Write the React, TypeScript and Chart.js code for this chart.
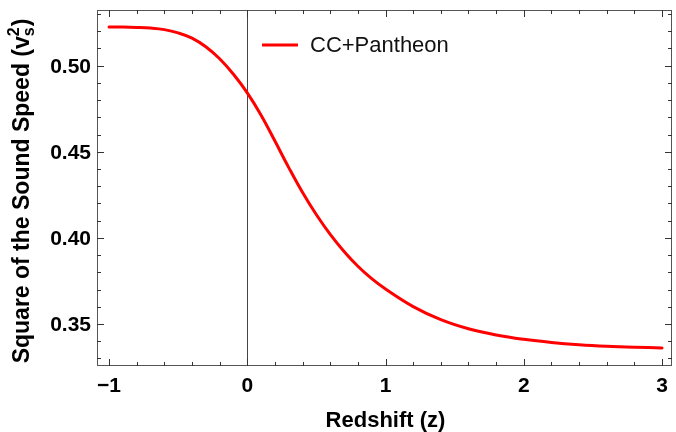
import React, { useEffect, useRef } from 'react';
import { Chart, registerables } from 'chart.js';

Chart.register(...registerables);

// Redshift z (x) and squared sound speed v_s^2 (y), CC+Pantheon
const redshift = [
  -1.0, -0.9, -0.8, -0.7, -0.6, -0.5, -0.4, -0.3, -0.2, -0.1,
  0.0, 0.1, 0.2, 0.3, 0.4, 0.5, 0.6, 0.7, 0.8, 0.9, 1.0,
  1.2, 1.4, 1.6, 1.8, 2.0, 2.2, 2.4, 2.6, 2.8, 3.0,
];
const soundSpeedSq = [
  0.5224, 0.5224, 0.5222, 0.5218, 0.5209, 0.5190, 0.5160, 0.5110, 0.5040, 0.4950,
  0.4842, 0.4712, 0.4562, 0.4408, 0.4263, 0.4134, 0.4020, 0.3921, 0.3835, 0.3763, 0.3703,
  0.3601, 0.3525, 0.3472, 0.3436, 0.3411, 0.3393, 0.3380, 0.3371, 0.3365, 0.3361,
];

const seriesLabel = 'CC+Pantheon';
const xTitle = 'Redshift (z)';
const yTitleMain = 'Square of the Sound Speed (v';
const yTitleSup = '2';
const yTitleSub = 's';

const xMajorTicks = [-1, 0, 1, 2, 3];
const xTickLabels = ['\u22121', '0', '1', '2', '3'];
const yMajorTicks = [0.35, 0.4, 0.45, 0.5];
const yTickLabels = ['0.35', '0.40', '0.45', '0.50'];

const X_MIN = -1.087;
const X_MAX = 3.072;
const Y_MIN = 0.3256;
const Y_MAX = 0.5323;

const FONT = '"Liberation Sans", Arial, Helvetica, sans-serif';

const framePlugin = {
  id: 'mmaFrame',
  beforeDatasetsDraw(chart: any) {
    const { ctx, chartArea: a, scales } = chart;
    const x0 = Math.round(scales.x.getPixelForValue(0)) + 0.5;
    ctx.save();
    ctx.strokeStyle = '#444';
    ctx.lineWidth = 1;
    ctx.beginPath();
    ctx.moveTo(x0, a.top);
    ctx.lineTo(x0, a.bottom);
    ctx.stroke();
    ctx.restore();
  },
  afterDraw(chart: any) {
    const { ctx, chartArea: a, scales } = chart;
    const xs = scales.x;
    const ys = scales.y;
    ctx.save();

    // frame
    ctx.strokeStyle = '#555';
    ctx.lineWidth = 1;
    ctx.strokeRect(a.left + 0.5, a.top + 0.5, a.right - a.left - 1, a.bottom - a.top - 1);

    // ticks
    ctx.strokeStyle = '#333';
    ctx.beginPath();
    for (let i = -5; i <= 15; i++) {
      const v = i * 0.2;
      const major = i % 5 === 0;
      const len = major ? 7 : 4;
      const px = Math.round(xs.getPixelForValue(v)) + 0.5;
      ctx.moveTo(px, a.bottom);
      ctx.lineTo(px, a.bottom - len);
      ctx.moveTo(px, a.top);
      ctx.lineTo(px, a.top + len);
    }
    for (let i = 33; i <= 53; i++) {
      const v = i / 100;
      const major = i % 5 === 0;
      const len = major ? 7 : 4;
      const py = Math.round(ys.getPixelForValue(v)) + 0.5;
      ctx.moveTo(a.left, py);
      ctx.lineTo(a.left + len, py);
      ctx.moveTo(a.right, py);
      ctx.lineTo(a.right - len, py);
    }
    ctx.stroke();

    // tick labels
    ctx.fillStyle = '#000';
    ctx.font = `bold 21px ${FONT}`;
    ctx.textBaseline = 'alphabetic';
    ctx.textAlign = 'center';
    xMajorTicks.forEach((v, i) => {
      ctx.fillText(xTickLabels[i], xs.getPixelForValue(v), a.bottom + 26);
    });
    ctx.textAlign = 'right';
    yMajorTicks.forEach((v, i) => {
      ctx.fillText(yTickLabels[i], a.left - 6, ys.getPixelForValue(v) + 7);
    });

    // x title
    ctx.textAlign = 'center';
    ctx.font = `bold 22px ${FONT}`;
    ctx.fillText(xTitle, (a.left + a.right) / 2 + 1, 427);

    // y title (rotated) with v_s^2
    ctx.save();
    ctx.translate(29, (a.top + a.bottom) / 2 + 3);
    ctx.rotate(-Math.PI / 2);
    ctx.textAlign = 'left';
    const big = `bold 23px ${FONT}`;
    const small = `bold 16px ${FONT}`;
    ctx.font = big;
    const w1 = ctx.measureText(yTitleMain).width;
    const w3 = ctx.measureText(')').width;
    ctx.font = small;
    const wS = Math.max(ctx.measureText(yTitleSup).width, ctx.measureText(yTitleSub).width);
    const total = w1 + wS + 1 + w3;
    let cx = -total / 2;
    ctx.font = big;
    ctx.fillText(yTitleMain, cx, 0);
    cx += w1;
    ctx.font = small;
    ctx.fillText(yTitleSup, cx, -10);
    ctx.fillText(yTitleSub, cx, 5);
    cx += wS + 1;
    ctx.font = big;
    ctx.fillText(')', cx, 0);
    ctx.restore();

    // legend
    ctx.strokeStyle = '#ff0000';
    ctx.lineWidth = 3;
    ctx.beginPath();
    ctx.moveTo(262, 45);
    ctx.lineTo(298, 45);
    ctx.stroke();
    ctx.fillStyle = '#111';
    ctx.font = `22px ${FONT}`;
    ctx.textAlign = 'left';
    ctx.textBaseline = 'middle';
    ctx.fillText(seriesLabel, 310, 46);

    ctx.restore();
  },
};

export default function App() {
  const canvasRef = useRef<HTMLCanvasElement | null>(null);

  useEffect(() => {
    const canvas = canvasRef.current;
    if (!canvas) return;
    const chart = new Chart(canvas, {
      type: 'line',
      data: {
        datasets: [
          {
            label: seriesLabel,
            data: redshift.map((z, i) => ({ x: z, y: soundSpeedSq[i] })),
            borderColor: '#ff0000',
            borderWidth: 3,
            pointRadius: 0,
            fill: false,
            tension: 0.4,
            borderCapStyle: 'round',
            borderJoinStyle: 'round',
          },
        ],
      },
      options: {
        animation: false,
        responsive: false,
        maintainAspectRatio: false,
        devicePixelRatio: 1,
        layout: { padding: { left: 97, top: 10, right: 4, bottom: 66 } },
        plugins: { legend: { display: false }, tooltip: { enabled: false } },
        scales: {
          x: { type: 'linear', min: X_MIN, max: X_MAX, display: false },
          y: { type: 'linear', min: Y_MIN, max: Y_MAX, display: false },
        },
      },
      plugins: [framePlugin],
    });
    return () => chart.destroy();
  }, []);

  return (
    <div style={{ position: 'fixed', left: 0, top: 0, width: 676, height: 432, background: '#fff' }}>
      <canvas ref={canvasRef} width={676} height={432} style={{ width: 676, height: 432, display: 'block' }} />
    </div>
  );
}
